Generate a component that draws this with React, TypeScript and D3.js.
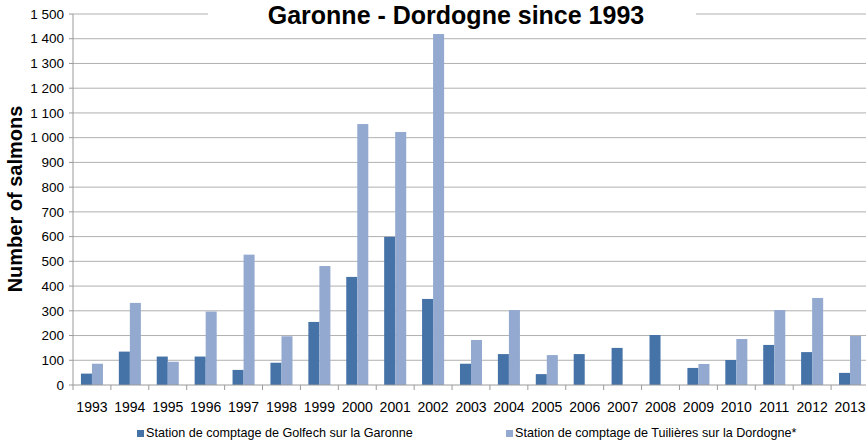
import * as d3 from 'd3'

// Saumons comptés aux stations Garonne / Dordogne
const years = ['1993', '1994', '1995', '1996', '1997', '1998', '1999', '2000', '2001', '2002', '2003',
  '2004', '2005', '2006', '2007', '2008', '2009', '2010', '2011', '2012', '2013']
const golfech = [46, 135, 115, 115, 61, 90, 255, 437, 599, 348, 86, 125, 44, 125, 150, 202, 69, 101, 162, 133, 49]
const tuilieres = [86, 332, 94, 297, 527, 197, 481, 1055, 1023, 1419, 182, 303, 121, null, null, null, 85, 186, 303, 352, 198]
const yTicks = [0, 100, 200, 300, 400, 500, 600, 700, 800, 900, 1000, 1100, 1200, 1300, 1400, 1500]
const seriesNames = ['Station de comptage de Golfech sur la Garonne', 'Station de comptage de Tuilières sur la Dordogne*']

const W = 866
const H = 441
const left = 73
const right = 869
const top = 14
const bottom = 385
const colors = ['#4572a7', '#93a9cf']
const font = 'Liberation Sans, Arial, sans-serif'

export default function App() {
  const x = d3.scaleBand<string>().domain(years).range([left, right])
  const inner = d3.scaleBand<number>().domain([0, 1]).range([0, x.bandwidth()]).paddingInner(0).paddingOuter(0.72)
  const y = d3.scaleLinear().domain([0, 1500]).range([bottom, top])
  const fmt = d3.formatLocale({ thousands: ' ', grouping: [3], decimal: ',', currency: ['', ''] }).format(',')
  const series = [golfech, tuilieres]

  return (
    <svg width={W} height={H} style={{ position: 'absolute', left: 0, top: 0, display: 'block', background: '#fff' }}
      fontFamily={font}>
      {/* grille */}
      {yTicks.filter(t => t > 0).map(t => (
        <line key={'g' + t} x1={left} x2={W} y1={y(t)} y2={y(t)} stroke="#b0b0b0" strokeWidth={1} />
      ))}
      {/* ticks et libellés y */}
      {yTicks.map(t => (
        <g key={'y' + t}>
          <line x1={left - 4} x2={left} y1={y(t)} y2={y(t)} stroke="#9a9a9a" />
          <text x={left - 9} y={y(t)} dy="0.35em" textAnchor="end" fontSize={13.5} fill="#000">{fmt(t)}</text>
        </g>
      ))}
      {/* barres */}
      {series.map((vals, si) => vals.map((v, i) => v == null ? null : (
        <rect key={si + '-' + i} x={x(years[i])! + inner(si)!} y={y(v)} width={inner.bandwidth()}
          height={bottom - y(v)} fill={colors[si]} />
      )))}
      {/* axes */}
      <line x1={left} x2={left} y1={top} y2={bottom} stroke="#9a9a9a" />
      <line x1={left} x2={W} y1={bottom} y2={bottom} stroke="#9a9a9a" />
      {years.map(yr => (
        <line key={'t' + yr} x1={x(yr)!} x2={x(yr)!} y1={bottom} y2={bottom + 5} stroke="#9a9a9a" />
      ))}
      {years.map(yr => (
        <text key={'l' + yr} x={x(yr)! + x.bandwidth() / 2} y={412} textAnchor="middle" fontSize={14}>{yr}</text>
      ))}
      {/* titre */}
      <rect x={208} y={2} width={488} height={26} fill="#fff" />
      <text x={456} y={24} textAnchor="middle" fontSize={25} fontWeight="bold">Garonne - Dordogne since 1993</text>
      {/* titre axe y */}
      <text transform={`translate(22, 199) rotate(-90)`} textAnchor="middle" fontSize={20}
        fontWeight="bold">Number of salmons</text>
      {/* légende */}
      {[137, 506].map((lx, si) => (
        <g key={'leg' + si}>
          <rect x={lx} y={430} width={7} height={7} fill={colors[si]} />
          <text x={lx + 9} y={437} fontSize={12.6}>{seriesNames[si]}</text>
        </g>
      ))}
    </svg>
  )
}
